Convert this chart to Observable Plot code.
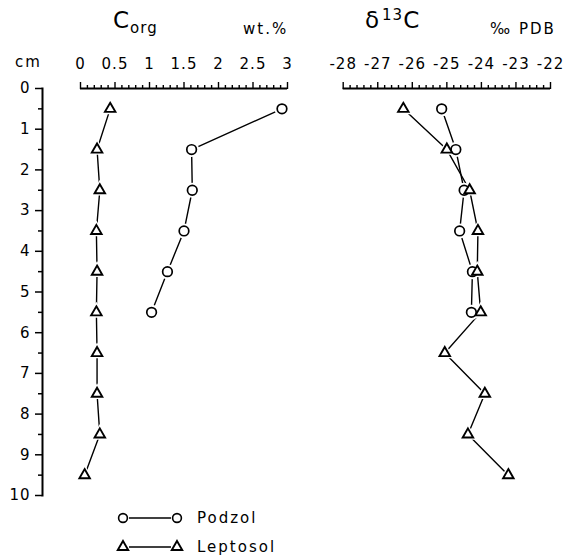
<!DOCTYPE html>
<html><head><meta charset="utf-8">
<script src="https://cdn.jsdelivr.net/npm/d3@7"></script>
<script src="https://cdn.jsdelivr.net/npm/@observablehq/plot@0.6"></script>
<style>
body{margin:0;background:#fff;font-family:"DejaVu Sans",sans-serif;color:#000}
#wrap{position:relative;width:570px;height:558px;overflow:hidden}
.t{position:absolute;line-height:1;white-space:nowrap;letter-spacing:1px}
#row{position:absolute;top:44px;left:0;display:flex}
#legend{position:absolute;top:505px;left:0}
</style></head><body>
<div id="wrap">
  <div class="t" style="left:113px;top:9px;font-size:23px">C<span style="font-size:15px;position:relative;top:5px;letter-spacing:1px">org</span></div>
  <div class="t" style="left:243px;top:22px;font-size:15px;letter-spacing:2px">wt.%</div>
  <div class="t" style="left:365px;top:9px;font-size:23px">δ<span style="font-size:15px;position:relative;top:-8px;margin-left:2px">13</span>C</div>
  <div class="t" style="left:490px;top:22px;font-size:15px;letter-spacing:2px">‰ PDB</div>
  <div class="t" style="left:15px;top:55px;font-size:15px;letter-spacing:2px">cm</div>
  <div id="row"></div>
  <div id="legend"></div>
</div>
<script>
// ---- data ----
const podzolDepth   = [0.5, 1.5, 2.5, 3.5, 4.5, 5.5];
const leptosolDepth = [0.5, 1.5, 2.5, 3.5, 4.5, 5.5, 6.5, 7.5, 8.5, 9.5];
const podzolCorg    = [2.92, 1.61, 1.62, 1.50, 1.26, 1.03];
const leptosolCorg  = [0.43, 0.24, 0.28, 0.23, 0.24, 0.23, 0.24, 0.24, 0.28, 0.06];
const podzolD13C    = [-25.15, -24.74, -24.50, -24.63, -24.26, -24.29];
const leptosolD13C  = [-26.26, -25.00, -24.34, -24.10, -24.12, -24.02, -25.06, -23.90, -24.39, -23.22];

const depthTicks  = [0, 1, 2, 3, 4, 5, 6, 7, 8, 9, 10];
const depthLabels = ["0","1","2","3","4","5","6","7","8","9","10"];
const depthMinor  = [0.5, 1.5, 2.5, 3.5, 4.5, 5.5, 6.5, 7.5, 8.5, 9.5];
const corgTicks   = [0, 0.5, 1, 1.5, 2, 2.5, 3];
const corgLabels  = ["0","0.5","1","1.5","2","2.5","3"];
const d13cTicks   = [-28, -27, -26, -25, -24, -23, -22];
const d13cLabels  = ["-28","-27","-26","-25","-24","-23","-22"];
const seriesNames = ["Podzol", "Leptosol"];

const corgMinor = d3.range(0, 31).map(i => i / 10).filter(v => !corgTicks.includes(v));
const d13cMinor = d3.range(0, 31).map(i => -28 + i / 5).filter(v => !d13cTicks.some(t => Math.abs(t - v) < 1e-9));

const rows = (depths, vals) => depths.map((d, i) => ({depth: d, v: vals[i]}));

const H = 461, yTop = 44, yBot = 451;

function profile({width, marginLeft, marginRight, xDomain, xRange, pod, lep, ticks, labels, minor, withY}) {
  const marks = [];
  if (withY) {
    marks.push(Plot.frame({anchor: "left", strokeWidth: 2}));
    marks.push(Plot.axisY(depthTicks, {anchor: "left", label: null, tickSize: 7, tickPadding: 5, strokeWidth: 1.5,
      tickFormat: d => depthLabels[depthTicks.indexOf(d)], fontSize: 15}));
    marks.push(Plot.axisY(depthMinor, {anchor: "left", label: null, tickSize: 4, strokeWidth: 1.5, tickFormat: () => ""}));
  }
  marks.push(
    Plot.ruleY([0], {x1: xDomain[0], x2: xDomain[1], strokeWidth: 2}),
    Plot.axisX(ticks, {anchor: "top", label: null, tickSize: 7, tickPadding: 13, strokeWidth: 1.4,
      tickFormat: d => labels[ticks.indexOf(d)], fontSize: 15}),
    Plot.axisX(minor, {anchor: "top", label: null, tickSize: 4, strokeWidth: 1.4, tickFormat: () => ""}),
    Plot.line(pod, {x: "v", y: "depth", stroke: "black", strokeWidth: 1.4}),
    Plot.line(lep, {x: "v", y: "depth", stroke: "black", strokeWidth: 1.4}),
    Plot.dot(pod, {x: "v", y: "depth", r: 7.5, fill: "white", stroke: "none"}),
    Plot.dot(lep, {x: "v", y: "depth", r: 6.8, symbol: "triangle", fill: "white", stroke: "none"}),
    Plot.dot(pod, {x: "v", y: "depth", r: 4.8, fill: "white", stroke: "black", strokeWidth: 1.7}),
    Plot.dot(lep, {x: "v", y: "depth", r: 3.9, symbol: "triangle", fill: "white", stroke: "black", strokeWidth: 1.9})
  );
  return Plot.plot({
    width, height: H,
    marginTop: yTop, marginBottom: H - yBot, marginLeft, marginRight,
    style: {fontFamily: "DejaVu Sans", fontSize: "15px", background: "transparent", overflow: "visible", letterSpacing: "1px"},
    x: {domain: xDomain, range: xRange, label: null, axis: null},
    y: {domain: [0, 10], range: [yTop, yBot], label: null, axis: null},
    marks
  });
}

const row = document.getElementById("row");
row.append(profile({
  width: 310, marginLeft: 42, marginRight: 0,
  xDomain: [0, 3], xRange: [80, 287],
  pod: rows(podzolDepth, podzolCorg), lep: rows(leptosolDepth, leptosolCorg),
  ticks: corgTicks, labels: corgLabels, minor: corgMinor, withY: true
}));
row.append(profile({
  width: 260, marginLeft: 20, marginRight: 10,
  xDomain: [-28, -22], xRange: [32.7, 240],
  pod: rows(podzolDepth, podzolD13C), lep: rows(leptosolDepth, leptosolD13C),
  ticks: d13cTicks, labels: d13cLabels, minor: d13cMinor, withY: false
}));

// ---- legend ----
const lg = d3.select("#legend").append("svg").attr("width", 570).attr("height", 53)
  .style("font-family", "DejaVu Sans").style("font-size", "15px");
const circ = d3.symbol(d3.symbolCircle, Math.PI * 4.4 * 4.4)();
const tri = d3.symbol(d3.symbolTriangle, Math.PI * 3.9 * 3.9)();
seriesNames.forEach((name, i) => {
  const y = 13 + i * 29;
  const g = lg.append("g");
  g.append("line").attr("x1", 129).attr("x2", 171).attr("y1", y).attr("y2", y)
    .attr("stroke", "black").attr("stroke-width", 1.4);
  [123, 177].forEach(x => g.append("path").attr("d", i === 0 ? circ : tri)
    .attr("transform", `translate(${x},${y})`).attr("fill", "white").attr("stroke", "black")
    .attr("stroke-width", i === 0 ? 1.6 : 1.9));
  g.append("text").attr("x", 197).attr("y", y + 5).attr("letter-spacing", "2px").text(name);
});
</script>
</body></html>
